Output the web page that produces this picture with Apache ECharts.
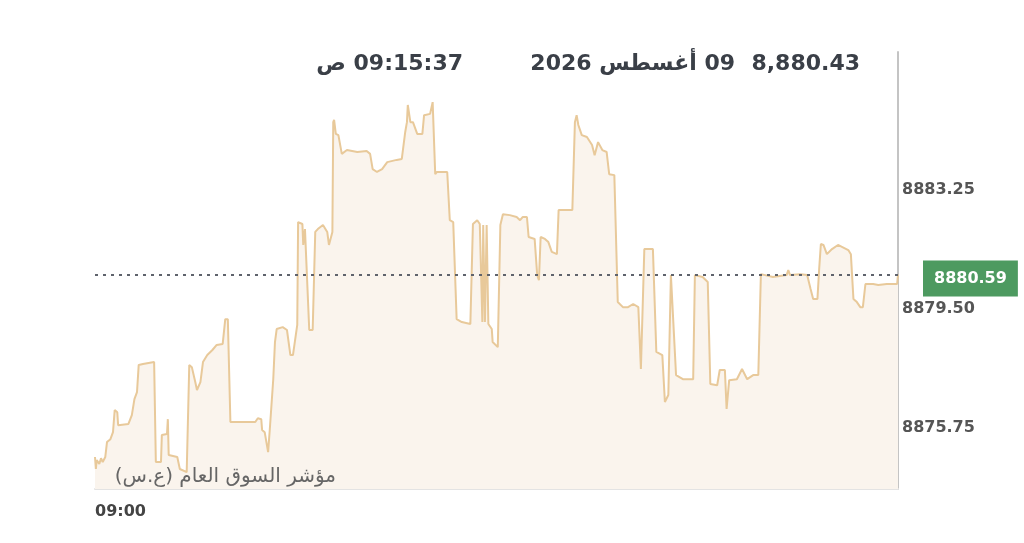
<!DOCTYPE html>
<html>
<head>
<meta charset="utf-8">
<script src="https://cdn.jsdelivr.net/npm/echarts@6.0.0/dist/echarts.min.js"></script>
<style>
  html, body { margin: 0; padding: 0; background: #fff; }
  #chart { width: 1024px; height: 543px; }
</style>
</head>
<body>
<div id="chart"></div>
<script>
'use strict';
/* intraday index chart */

// seconds after 09:00:00
var secs = [0, 1, 2, 5, 7, 9, 12, 14, 18, 21, 23, 26, 27, 39, 43, 46, 49, 51, 56, 69,
  71, 77, 78, 84, 85, 86, 96, 99, 107, 110, 113, 117, 119, 123, 126, 131, 137, 142, 149, 152,
  155, 158, 187, 190, 194, 195, 198, 202, 204, 208, 210, 212, 219, 224, 228, 231, 236, 237, 242, 243,
  245, 247, 250, 254, 257, 260, 266, 271, 273, 277, 278, 279, 281, 284, 288, 294, 306, 317, 321, 324,
  329, 335, 341, 352, 358, 362, 364, 365, 368, 371, 376, 382, 384, 391, 394, 396, 397, 399, 411, 414,
  418, 422, 428, 438, 441, 446, 449, 452, 453, 455, 457, 459, 463, 464, 470, 473, 476, 484, 492, 496,
  499, 504, 506, 513, 516, 518, 520, 525, 529, 533, 539, 541, 551, 557, 560, 562, 564, 568, 574, 580,
  583, 587, 592, 597, 600, 606, 610, 616, 622, 628, 634, 637, 641, 651, 655, 662, 665, 669, 672, 674,
  678, 686, 698, 700, 709, 715, 718, 726, 729, 735, 737, 740, 749, 755, 761, 768, 774, 777, 782, 791,
  807, 809, 811, 823, 831, 835, 838, 843, 845, 847, 850, 854, 860, 867, 879, 882, 885, 889, 893, 896,
  899, 908, 914, 924, 936, 937];

var prices = [8874.84, 8874.46, 8874.74, 8874.62, 8874.80, 8874.68, 8874.84, 8875.31, 8875.40, 8875.62,
  8876.32, 8876.25, 8875.84, 8875.88, 8876.16, 8876.66, 8876.88, 8877.74, 8877.77, 8877.83,
  8874.68, 8874.68, 8875.53, 8875.56, 8876.03, 8874.90, 8874.84, 8874.46, 8874.36, 8877.74,
  8877.67, 8877.20, 8876.95, 8877.20, 8877.83, 8878.05, 8878.21, 8878.37, 8878.40, 8879.18,
  8879.18, 8875.94, 8875.94, 8876.06, 8876.03, 8875.69, 8875.62, 8874.99, 8875.72, 8877.29,
  8878.46, 8878.87, 8878.93, 8878.84, 8878.05, 8878.05, 8879.00, 8882.24, 8882.18, 8881.52,
  8882.02, 8882.08, 8878.84, 8878.84, 8881.93, 8882.02, 8882.15, 8881.93, 8881.52, 8881.93,
  8885.39, 8885.46, 8885.02, 8884.98, 8884.39, 8884.51, 8884.45, 8884.48, 8884.39, 8883.91,
  8883.82, 8883.91, 8884.13, 8884.20, 8884.23, 8885.08, 8885.39, 8885.93, 8885.39, 8885.39,
  8885.02, 8885.02, 8885.61, 8885.65, 8886.02, 8886.02, 8883.75, 8883.82, 8883.82, 8882.30,
  8882.24, 8879.18, 8879.09, 8879.03, 8882.18, 8882.30, 8882.18, 8879.09, 8882.15, 8879.09,
  8882.15, 8879.03, 8878.87, 8878.46, 8878.30, 8882.15, 8882.49, 8882.46, 8882.40, 8882.30,
  8882.40, 8882.40, 8881.77, 8881.71, 8880.57, 8880.41, 8881.77, 8881.71, 8881.61, 8881.30,
  8881.23, 8882.62, 8882.62, 8882.62, 8885.39, 8885.61, 8885.30, 8884.98, 8884.92, 8884.67,
  8884.35, 8884.76, 8884.51, 8884.45, 8883.75, 8883.72, 8879.72, 8879.56, 8879.56, 8879.66,
  8879.56, 8877.61, 8881.39, 8881.39, 8878.15, 8878.05, 8876.57, 8876.79, 8880.57, 8880.57,
  8877.42, 8877.29, 8877.29, 8880.57, 8880.51, 8880.35, 8877.14, 8877.10, 8877.58, 8877.58,
  8876.35, 8877.26, 8877.29, 8877.61, 8877.29, 8877.42, 8877.42, 8880.60, 8880.57, 8880.51,
  8880.57, 8880.73, 8880.57, 8880.60, 8880.57, 8880.13, 8879.82, 8879.82, 8880.76, 8881.55,
  8881.52, 8881.23, 8881.39, 8881.52, 8881.36, 8881.23, 8879.82, 8879.72, 8879.56, 8879.56,
  8880.29, 8880.29, 8880.26, 8880.29, 8880.29, 8880.59];

var yTicks = [8875.75, 8879.50, 8883.25];
var xTicks = [0];
var xTickLabels = ['09:00'];
var lastPrice = 8880.59;

var headPrice = '8,880.43';
var headDate = '09 أغسطس 2026';
var headTime = '09:15:37 ص';
var indexName = 'مؤشر السوق العام (ع.س)';

var FONT = '"DejaVu Sans", "Noto Sans", sans-serif';
var RLI = '\u2067', PDI = '\u2069';

var seriesData = secs.map(function(s, i) { return [s, prices[i]]; });

var chart = echarts.init(document.getElementById('chart'));
var option = {
  animation: false,
  backgroundColor: '#ffffff',
  grid: { left: 95, right: 126, top: 52, bottom: 54 },
  xAxis: {
    type: 'value',
    min: 0,
    max: 937,
    splitLine: { show: false },
    axisTick: { show: false },
    axisLine: { show: true, onZero: false, lineStyle: { color: '#e3e3e3', width: 2 } },
    axisLabel: {
      customValues: xTicks,
      formatter: function(v) { return xTickLabels[xTicks.indexOf(v)] || ''; },
      alignMinLabel: 'left',
      margin: 15,
      color: '#444',
      fontFamily: FONT,
      fontWeight: 'bold',
      fontSize: 16
    }
  },
  yAxis: {
    type: 'value',
    position: 'right',
    min: 8873.83,
    max: 8887.60,
    splitLine: { show: false },
    axisTick: { show: false },
    axisLine: { show: true, onZero: false, lineStyle: { color: '#c4c4c4', width: 2 } },
    axisLabel: {
      customValues: yTicks,
      formatter: function(v) { return v.toFixed(2); },
      margin: 4,
      color: '#555',
      fontFamily: FONT,
      fontWeight: 'bold',
      fontSize: 16
    }
  },
  graphic: [
    { type: 'text', right: 1024 - 860, top: 53,
      style: { text: headPrice, fill: '#3a3f47', font: 'bold 22px ' + FONT } },
    { type: 'text', right: 1024 - 735, top: 53,
      style: { text: RLI + headDate + PDI, fill: '#3a3f47', font: 'bold 22px ' + FONT } },
    { type: 'text', right: 1024 - 463, top: 53,
      style: { text: RLI + headTime + PDI, fill: '#3a3f47', font: 'bold 22px ' + FONT } },
    { type: 'text', right: 1024 - 336, top: 467, z: 10,
      style: { text: RLI + indexName + PDI, fill: '#666', font: '20px ' + FONT } }
  ],
  series: [{
    type: 'line',
    data: seriesData,
    showSymbol: false,
    lineStyle: { color: '#e8c99a', width: 2 },
    areaStyle: { color: '#faf4ed', opacity: 1 },
    markLine: {
      silent: true,
      symbol: ['none', 'none'],
      lineStyle: { color: '#5f636c', type: [3, 5], width: 2 },
      label: {
        show: true,
        position: 'end',
        distance: 25,
        offset: [0, 4],
        formatter: function() { return lastPrice.toFixed(2); },
        backgroundColor: '#4d9a60',
        color: '#ffffff',
        fontFamily: FONT,
        fontWeight: 'bold',
        fontSize: 16,
        padding: [10, 11, 10, 11]
      },
      data: [{ yAxis: lastPrice }]
    }
  }]
};
chart.setOption(option);
</script>
</body>
</html>
